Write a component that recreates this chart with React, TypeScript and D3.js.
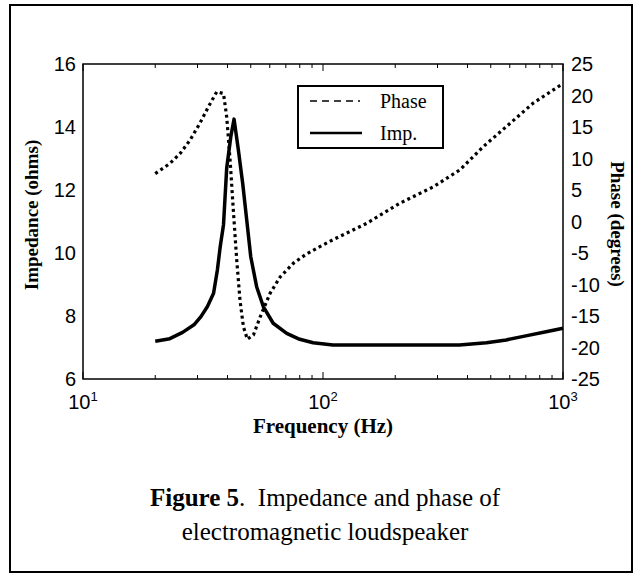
import * as d3 from 'd3';

// Impedance curve (ohms) vs frequency (Hz)
const impFreq = [20, 23, 26, 29, 31, 33, 35, 36.3, 37.3, 38.5, 39.7, 41.3, 42.6, 44.4, 46.3, 48.1, 50, 52.9, 56.4, 62, 70.6, 80, 91, 110, 370, 480, 580, 700, 850, 1000];
const impValues = [7.2, 7.28, 7.48, 7.72, 7.98, 8.3, 8.72, 9.46, 10.2, 10.9, 12.7, 13.7, 14.25, 13.27, 12.2, 11.05, 9.88, 8.93, 8.3, 7.77, 7.45, 7.26, 7.15, 7.08, 7.08, 7.15, 7.24, 7.37, 7.5, 7.61];

// Phase curve (degrees) vs frequency (Hz)
const phaseFreq = [20, 23, 25.4, 27.9, 30.7, 33.3, 36.1, 38.5, 39.7, 41, 42.3, 43.7, 45.1, 46.6, 48.4, 51.3, 54.8, 60.2, 66.3, 75.4, 85, 97, 110, 152, 209, 288, 372, 466, 582, 752, 1000];
const phaseValues = [7.6, 9.2, 10.8, 12.9, 15.6, 18.2, 20.6, 20.3, 16.6, 9.8, 1.8, -6.1, -12.5, -16.7, -18.7, -18.0, -15.1, -11.4, -8.8, -6.6, -5.2, -4.0, -2.9, -0.3, 2.9, 5.5, 8.2, 11.9, 15.1, 18.8, 21.9];

const impTicks = [6, 8, 10, 12, 14, 16];
const phaseTicks = [-25, -20, -15, -10, -5, 0, 5, 10, 15, 20, 25];
const decadeTicks = [10, 100, 1000];
const decadeExp = ['1', '2', '3'];

const W = 642;
const H = 578;
const plot = { left: 83, right: 563, top: 64, bottom: 379 };

const sans = '"Liberation Sans", Arial, sans-serif';
const serif = '"Liberation Serif", "Times New Roman", serif';

export default function App() {
  const x = d3.scaleLog().domain([10, 1000]).range([plot.left, plot.right]);
  const yImp = d3.scaleLinear().domain([6, 16]).range([plot.bottom, plot.top]);
  const yPh = d3.scaleLinear().domain([-25, 25]).range([plot.bottom, plot.top]);

  const impLine = d3.line<number>()
    .x((_, i) => x(impFreq[i]))
    .y((d) => yImp(d));
  const phLine = d3.line<number>()
    .x((_, i) => x(phaseFreq[i]))
    .y((d) => yPh(d));

  const minor = x.ticks().filter((t) => !decadeTicks.includes(t));

  return (
    <div style={{ position: 'absolute', left: 0, top: 0 }}>
      <svg width={W} height={H} style={{ display: 'block', background: '#fff' }}>
        {/* outer frame */}
        <rect x={10} y={5} width={622} height={567} fill="none" stroke="#000" strokeWidth={2} />

        {/* plot box */}
        <rect x={plot.left} y={plot.top} width={plot.right - plot.left} height={plot.bottom - plot.top}
          fill="none" stroke="#000" strokeWidth={1.5} />

        {/* x ticks, bottom and top, inward */}
        {minor.map((t) => (
          <g key={'m' + t}>
            <line x1={x(t)} x2={x(t)} y1={plot.bottom} y2={plot.bottom - 4} stroke="#000" strokeWidth={1} />
            <line x1={x(t)} x2={x(t)} y1={plot.top} y2={plot.top + 4} stroke="#000" strokeWidth={1} />
          </g>
        ))}
        {decadeTicks.map((t) => (
          <g key={'M' + t}>
            <line x1={x(t)} x2={x(t)} y1={plot.bottom} y2={plot.bottom - 7} stroke="#000" strokeWidth={1} />
            <line x1={x(t)} x2={x(t)} y1={plot.top} y2={plot.top + 7} stroke="#000" strokeWidth={1} />
          </g>
        ))}

        {/* x tick labels */}
        {decadeTicks.map((t, i) => (
          <text key={'xl' + t} x={x(t)} y={409} textAnchor="middle" fontFamily={sans} fontSize={20}>
            10<tspan dy={-8} fontSize={13}>{decadeExp[i]}</tspan>
          </text>
        ))}

        {/* left axis labels */}
        {impTicks.map((t) => (
          <text key={'yl' + t} x={76} y={yImp(t) + 7} textAnchor="end" fontFamily={sans} fontSize={20}>{t}</text>
        ))}
        {/* right axis labels */}
        {phaseTicks.map((t) => (
          <text key={'yr' + t} x={571} y={yPh(t) + 7} textAnchor="start" fontFamily={sans} fontSize={20}>{t}</text>
        ))}

        {/* axis titles */}
        <text x={(plot.left + plot.right) / 2} y={433} textAnchor="middle" fontFamily={serif} fontWeight="bold" fontSize={21}>
          Frequency (Hz)
        </text>
        <text transform="translate(38,215) rotate(-90)" textAnchor="middle" fontFamily={serif} fontWeight="bold" fontSize={19}>
          Impedance (ohms)
        </text>
        <text transform="translate(611,224) rotate(90)" textAnchor="middle" fontFamily={serif} fontWeight="bold" fontSize={19}>
          Phase (degrees)
        </text>

        {/* series */}
        <path d={phLine(phaseValues) || ''} fill="none" stroke="#000" strokeWidth={3.2} strokeDasharray="3 3.3" />
        <path d={impLine(impValues) || ''} fill="none" stroke="#000" strokeWidth={3.5} strokeLinejoin="round" />

        {/* legend */}
        <rect x={298} y={86} width={145} height={62} fill="#fff" stroke="#000" strokeWidth={2} />
        <line x1={310} x2={360} y1={101} y2={101} stroke="#000" strokeWidth={1.5} strokeDasharray="7 5" />
        <text x={380} y={108} fontFamily={serif} fontSize={20}>Phase</text>
        <line x1={310} x2={362} y1={133} y2={133} stroke="#000" strokeWidth={2.5} />
        <text x={380} y={140} fontFamily={serif} fontSize={20}>Imp.</text>

        {/* caption */}
        <text x={325} y={506} textAnchor="middle" fontFamily={serif} fontSize={25}>
          <tspan fontWeight="bold">Figure 5</tspan>{'.\u00a0 Impedance and phase of'}
        </text>
        <text x={325} y={540} textAnchor="middle" fontFamily={serif} fontSize={25}>
          electromagnetic loudspeaker
        </text>
      </svg>
    </div>
  );
}
